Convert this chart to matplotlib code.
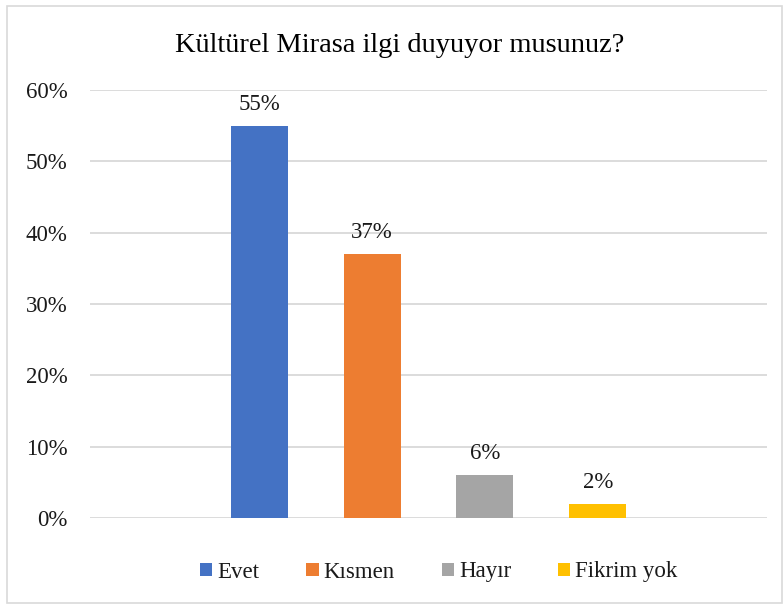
import matplotlib
matplotlib.use("Agg")
import matplotlib.pyplot as plt
from matplotlib.patches import Patch, Rectangle
from matplotlib.ticker import FuncFormatter, MultipleLocator

categories = ["Evet", "Kısmen", "Hayır", "Fikrim yok"]
values = [0.55, 0.37, 0.06, 0.02]
colors = ["#4472C4", "#ED7D31", "#A5A5A5", "#FFC000"]
title = "Kültürel Mirasa ilgi duyuyor musunuz?"

plt.rcParams['font.family'] = ['Liberation Serif', 'DejaVu Serif']

W, H = 784, 605
fig = plt.figure(figsize=(W/100, H/100), dpi=100)
fig.patches.append(Rectangle((7/W, 2/H), (782-7)/W, (599-2)/H, transform=fig.transFigure,
                             fill=False, edgecolor="#D9D9D9", linewidth=1.2))

ax = fig.add_axes([90/W, (H-518)/H, (767-90)/W, (518-90)/H])
x = list(range(len(categories)))
ax.bar(x, values, width=0.505, color=colors, zorder=3)
for xi, v in zip(x, values):
    ax.annotate(f"{round(v*100)}%", (xi, v), xytext=(0, 8), textcoords="offset points",
                ha="center", va="bottom", fontsize=16.5, color="#1a1a1a")

ax.set_xlim(-1.5, 4.5)
ax.set_ylim(0, 0.6)
ax.yaxis.set_major_locator(MultipleLocator(0.1))
ax.yaxis.set_major_formatter(FuncFormatter(lambda v, p: f"{round(v*100)}%"))
ax.grid(axis="y", color="#D9D9D9", linewidth=1.3, zorder=0)
ax.set_xticks([])
for s in ax.spines.values():
    s.set_visible(False)
ax.tick_params(axis="y", length=0, labelsize=16.5, labelcolor="#1a1a1a", pad=16)

fig.text(400/W, 1 - 45/H, title, ha="center", va="center", fontsize=20.5, color="#000000")

handles = [Patch(facecolor=c, edgecolor="none") for c in colors]
fig.legend(handles, categories, loc="center", bbox_to_anchor=(439/W, 1 - 572/H), ncol=4,
           frameon=False, fontsize=16.5, handlelength=0.53, handleheight=0.53,
           handletextpad=0.22, columnspacing=2.05, labelcolor="#1a1a1a")

fig.savefig("out.png", dpi=100)
